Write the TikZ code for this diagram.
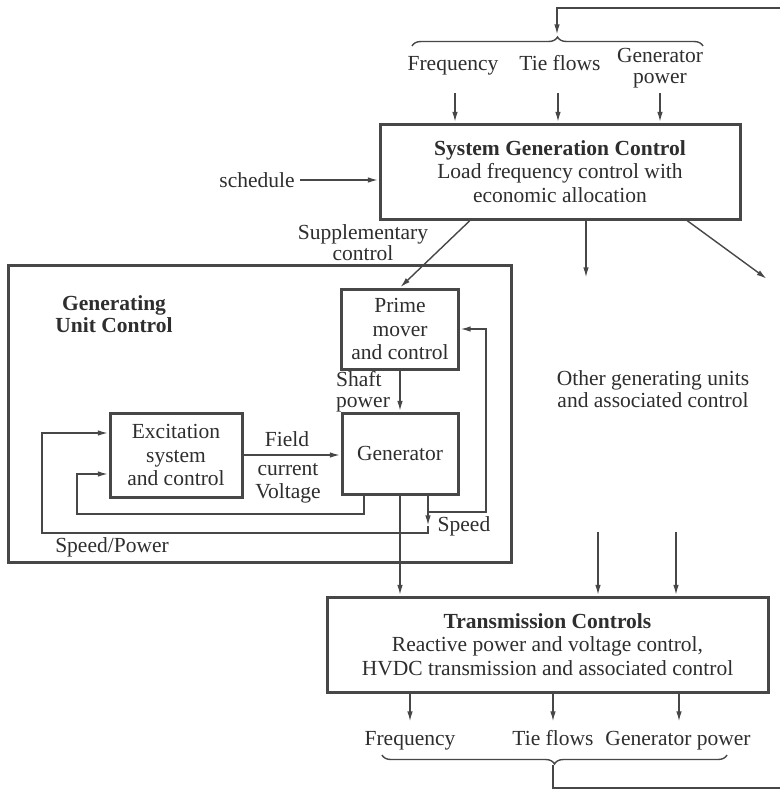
\documentclass[tikz,border=0pt]{standalone}
\usepackage{fontspec}
\setmainfont{Liberation Serif}
\usetikzlibrary{arrows.meta,decorations.pathreplacing,calc}
\begin{document}
\begin{tikzpicture}[x=1pt,y=-1pt,
  every node/.style={font=\fontsize{21.5}{23.5}\selectfont, text=black!82},
  box/.style={draw=black!72, line width=3pt, inner sep=0pt, align=center},
  conn/.style={draw=black!72, line width=1.4pt},
  arr/.style={conn, -{Latex[length=10pt,width=5.5pt]}, shorten >=0.6pt},
  lbl/.style={inner sep=0pt, align=center},
  bl/.style={inner sep=0pt, anchor=base},
  ttl/.style={inner sep=0pt, align=center, font=\fontsize{21.5}{22}\selectfont\bfseries},
  brc/.style={conn, decorate, decoration={brace, amplitude=9pt}},
]
\useasboundingbox[fill=white] (0,0) rectangle (780,793);

% boxes
\node[box, minimum width=360pt, minimum height=95pt] (sgc) at (560,171.5)
  {\textbf{System Generation Control}\\Load frequency control with\\economic allocation};
\node[box, minimum width=503pt, minimum height=297pt] (guc) at (259.5,413.5) {};
\node[box, minimum width=117pt, minimum height=80pt] (prime) at (400,329)
  {Prime\\mover\\and control};
\node[box, minimum width=116pt, minimum height=81pt] (gen) at (400,453.5) {Generator};
\node[box, minimum width=132pt, minimum height=84pt] (exc) at (176,455)
  {Excitation\\system\\and control};
\node[box, minimum width=441pt, minimum height=95pt] (trans) at (547.5,644.5)
  {\textbf{Transmission Controls}\\Reactive power and voltage control,\\HVDC transmission and associated control};

% labels
\node[ttl] (gucl) at (114,314) {Generating\\Unit Control};
\node[lbl] (sched) at (257,180) {schedule};
\node[lbl, font=\fontsize{21.5}{21}\selectfont] (supp) at (363,243) {Supplementary\\control};
\node[bl, anchor=base west] (shaft1) at (336,386) {Shaft};
\node[bl, anchor=base west] (shaft2) at (336,407) {power};
\node[lbl] (field) at (287,439) {Field};
\node[lbl] (curv) at (288,483.5) {current\\Voltage};
\node[lbl, font=\fontsize{21.5}{22}\selectfont] (other) at (653,389) {Other generating units\\and associated control};
\node[lbl] (spd) at (464,526) {Speed};
\node[lbl] (spw) at (112,547) {Speed/Power};
\node[bl] (tfq) at (453,70) {Frequency};
\node[bl] (ttf) at (560,70) {Tie flows};
\node[bl] (tgp1) at (660,62) {Generator};
\node[bl] (tgp2) at (660,83) {power};
\node[bl] (bfq) at (410,745) {Frequency};
\node[bl] (btf) at (553,745) {Tie flows};
\node[bl] (bgp) at (678,745) {Generator power};

% coordinates
\coordinate (in1) at (780,8);
\coordinate (tb) at (557,35);
\coordinate (a1) at (455,93);
\coordinate (a2) at (558,93);
\coordinate (a3) at (660,93);
\coordinate (og1) at (586,278);
\coordinate (og2) at (767,279);
\coordinate (sp) at (428,526);
\coordinate (fb) at (486,512);
\coordinate (t1) at (598,532);
\coordinate (t2) at (676,532);
\coordinate (b1) at (410,722);
\coordinate (b2) at (553,722);
\coordinate (b3) at (679,722);
\coordinate (bt) at (553,765);
\coordinate (out1) at (780,788);

% top input
\draw[arr] (in1) -| (tb);
\draw[brc] (412,46) -- (703,46);
\draw[arr] (a1) -- (a1 |- sgc.north);
\draw[arr] (a2) -- (a2 |- sgc.north);
\draw[arr] (a3) -- (a3 |- sgc.north);
\draw[arr] ([xshift=5pt]sched.east) -- (sched.east -| sgc.west);

% from SGC
\draw[arr] ([xshift=-90pt]sgc.south) -- (prime.north);
\draw[arr] (og1 |- sgc.south) -- (og1);
\draw[arr] ([xshift=127pt]sgc.south) -- (og2);

% generating unit
\draw[arr] (prime.south) -- (gen.north);
\draw[arr] (exc.east) -- (exc.east -| gen.west);
\draw[arr] ([xshift=-36pt]gen.south) |- (77,514) |- ([yshift=-19pt]exc.west);
\draw[arr] ([xshift=28pt]gen.south) -- (sp);
\draw[arr] (sp) |- (42,533) |- ([yshift=22pt]exc.west);
\draw[arr] (428,512) -- (fb) |- (prime.east);

% to transmission
\draw[arr] (gen.south) -- (gen.south |- trans.north);
\draw[arr] (t1) -- (t1 |- trans.north);
\draw[arr] (t2) -- (t2 |- trans.north);

% outputs
\draw[arr] (b1 |- trans.south) -- (b1);
\draw[arr] (b2 |- trans.south) -- (b2);
\draw[arr] (b3 |- trans.south) -- (b3);
\draw[brc] (727,755) -- (382,755);
\draw[conn] (bt) |- (out1);
\end{tikzpicture}
\end{document}
